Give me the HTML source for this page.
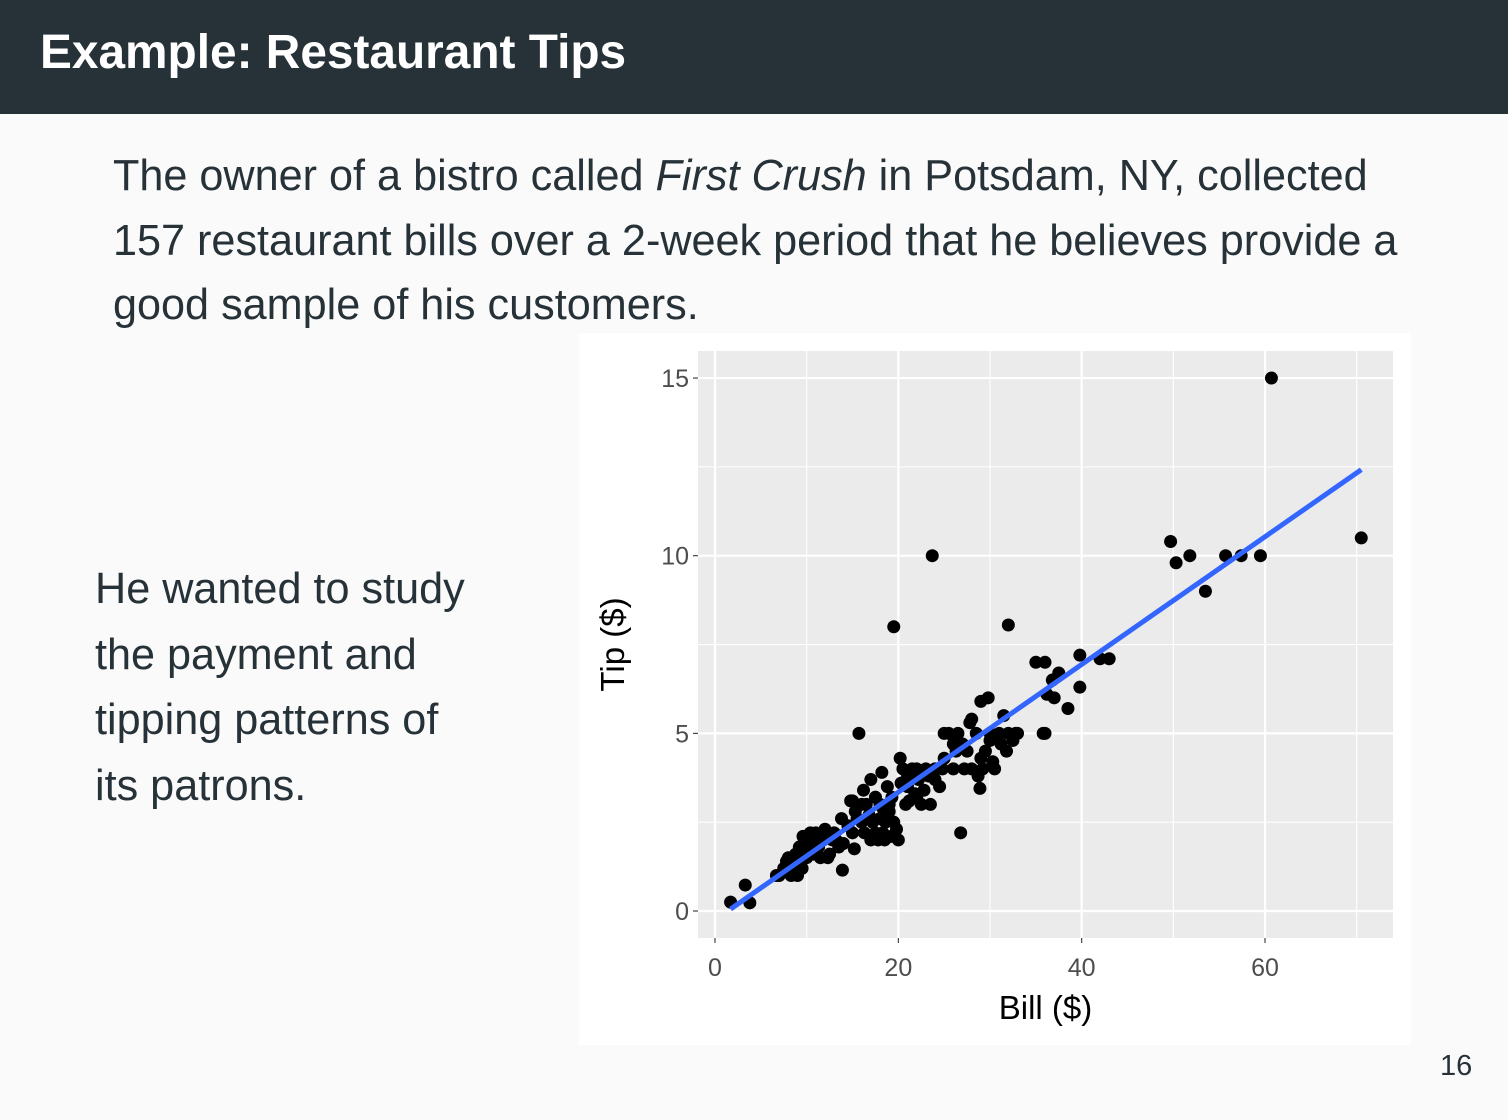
<!DOCTYPE html>
<html><head><meta charset="utf-8"><style>
body{margin:0;width:1508px;height:1120px;background:#fafafa;font-family:"Liberation Sans",sans-serif;position:relative;overflow:hidden;color:#263238}
#hdr{position:absolute;left:0;top:0;width:1508px;height:114px;background:#263238}
#hdr h1{position:absolute;left:40px;top:25px;margin:0;font-size:47.8px;color:#fff;font-weight:bold;white-space:nowrap}
.p{position:absolute;font-size:43.2px;line-height:64.5px;white-space:nowrap}
#chart{position:absolute;left:579px;top:333px;width:832px;height:712px;background:#fff}
#pg{position:absolute;left:1440px;top:1050px;font-size:29px;color:#263238}
</style></head><body>
<div id="hdr"><h1>Example: Restaurant Tips</h1></div>
<div class="p" style="left:113px;top:144px">The owner of a bistro called <i>First Crush</i> in Potsdam, NY, collected<br>157 restaurant bills over a 2-week period that he believes provide a<br>good sample of his customers.</div>
<div class="p" style="left:95px;top:557px;line-height:65.5px">He wanted to study<br>the payment and<br>tipping patterns of<br>its patrons.</div>
<div id="chart"><svg id="svg" width="832" height="712" xmlns="http://www.w3.org/2000/svg"></svg></div>
<div id="pg">16</div>
<script>
const bills=[7,7.5,8,8.3,8.5,8.8,9,9.2,9.5,9.7,10,10,10.2,10.5,10.8,11,11.3,11.5,11.8,12,12.5,12.8,13.2,13.5,14,9.6,10.4,7.8,8.2,9,
15,15.3,15.5,16,16,16.3,16.5,16.8,17,17,17.2,17.5,17.5,17.8,18,18,18.2,18.3,18.5,18.6,18.8,19,19.2,19.3,19.5,19.8,20,20.2,20.3,20.5,20.8,21,21.2,21.5,21.8,22,22.2,22.5,22.8,23,23.3,23.5,24,24.5,25,25,25.5,26,26.3,26.5,27,27.2,27.5,27.8,28,28,28.5,28.7,29,29.2,29.5,29.8,30,30.3,30.5,31,31.2,31.5,31.8,32,32.5,32.8,33,17.5,18.3,19,21,22,24,16.2,14.5,13,15,13.8,30,26,29,24.8,
35,36,36,35.8,36.2,36.8,37,37.5,38.5,39.8,39.8,42,43,49.7,50.3,51.8,53.5,55.7,57.4,59.5,60.7,70.5,
1.7,3.3,3.8,15.7,19.5,23.7,26.8,32,28.9,14.8,13.9,15.2,12.3,6.7];
const tips=[1.0,1.2,1.5,1.0,1.3,1.6,1.5,1.8,1.2,1.9,2.0,1.5,1.7,2.0,1.6,2.2,1.8,1.5,2.0,2.3,1.6,2.0,2.0,1.8,1.9,2.1,2.2,1.4,1.1,1.0,
3.1,2.8,2.6,3.0,2.5,2.2,3.0,2.7,2.0,3.7,2.5,2.2,3.2,2.0,2.6,3.0,3.9,2.2,2.0,2.5,3.5,2.8,2.1,3.2,2.5,2.3,2.0,4.3,3.6,4.0,3.0,3.5,3.1,4.0,3.3,4.0,3.7,3.0,3.4,4.0,3.8,3.0,4.0,3.5,4.3,5.0,5.0,4.0,4.5,5.0,4.7,4.0,4.5,5.3,5.4,4.0,5.0,3.8,5.9,4.0,4.5,6.0,5.0,4.2,4.0,5.0,4.7,5.5,4.5,5.0,4.8,5.0,5.0,3.2,2.9,3.0,3.8,3.2,3.7,3.4,2.4,2.2,2.2,2.6,4.8,4.7,4.3,4.0,
7.0,7.0,5.0,5.0,6.1,6.5,6.0,6.7,5.7,7.2,6.3,7.1,7.1,10.4,9.8,10,9.0,10,10,10,15,10.5,
0.25,0.73,0.23,5,8,10,2.2,8.05,3.45,3.1,1.15,1.75,1.5,1.0];
const xTicks=[0,20,40,60];
const yTicks=[0,5,10,15];
const xLabel="Bill ($)", yLabel="Tip ($)";
const NS="http://www.w3.org/2000/svg";
const svg=document.getElementById('svg');
const P={l:119,t:18,r:814,b:605};
const X=v=>136+v*9.167, Y=v=>578-v*35.53;
function mk(tag,attrs,parent){const e=document.createElementNS(NS,tag);for(const k in attrs)e.setAttribute(k,attrs[k]);(parent||svg).appendChild(e);return e;}
const panel=mk('rect',{x:P.l,y:P.t,width:P.r-P.l,height:P.b-P.t,fill:'#ebebeb'});


for(let i=0;i<xTicks.length;i++){const m=xTicks[i]+10;const l=mk('line',{x1:X(m),x2:X(m),y1:P.t,y2:P.b,stroke:'#fff','stroke-width':1.1});}
for(let i=0;i<yTicks.length-1;i++){const m=yTicks[i]+2.5;const l=mk('line',{x1:P.l,x2:P.r,y1:Y(m),y2:Y(m),stroke:'#fff','stroke-width':1.1});}
xTicks.forEach(v=>{const g=mk('line',{x1:X(v),x2:X(v),y1:P.t,y2:P.b,stroke:'#fff','stroke-width':2.2});
const t=mk('line',{x1:X(v),x2:X(v),y1:P.b,y2:P.b+5,stroke:'#333','stroke-width':1.1});
const tx=mk('text',{x:X(v),y:P.b+38,'text-anchor':'middle','font-size':25,fill:'#4d4d4d'});tx.textContent=v;});
yTicks.forEach(v=>{const g=mk('line',{x1:P.l,x2:P.r,y1:Y(v),y2:Y(v),stroke:'#fff','stroke-width':2.2});
const t=mk('line',{x1:P.l-5,x2:P.l,y1:Y(v),y2:Y(v),stroke:'#333','stroke-width':1.1});
const tx=mk('text',{x:P.l-9,y:Y(v)+9,'text-anchor':'end','font-size':25,fill:'#4d4d4d'});tx.textContent=v;});
for(let i=0;i<bills.length;i++){const c=mk('circle',{cx:X(bills[i]),cy:Y(tips[i]),r:6.5,fill:'#000'});}
const n=bills.length;let sx=0,sy=0,sxx=0,sxy=0;for(let i=0;i<n;i++){sx+=bills[i];sy+=tips[i];sxx+=bills[i]*bills[i];sxy+=bills[i]*tips[i];}
const b=(n*sxy-sx*sy)/(n*sxx-sx*sx),a=(sy-b*sx)/n;const xmin=Math.min(...bills),xmax=Math.max(...bills);
const fl=mk('line',{x1:X(xmin),y1:Y(a+b*xmin),x2:X(xmax),y2:Y(a+b*xmax),stroke:'#3366ff','stroke-width':5});


const xl=mk('text',{x:(P.l+P.r)/2,y:686,'text-anchor':'middle','font-size':33,fill:'#000'});xl.textContent=xLabel;


const yl=mk('text',{x:0,y:0,'text-anchor':'middle','font-size':33,fill:'#000',transform:`translate(45,${(P.t+P.b)/2}) rotate(-90)`});yl.textContent=yLabel;


</script>
</body></html>
